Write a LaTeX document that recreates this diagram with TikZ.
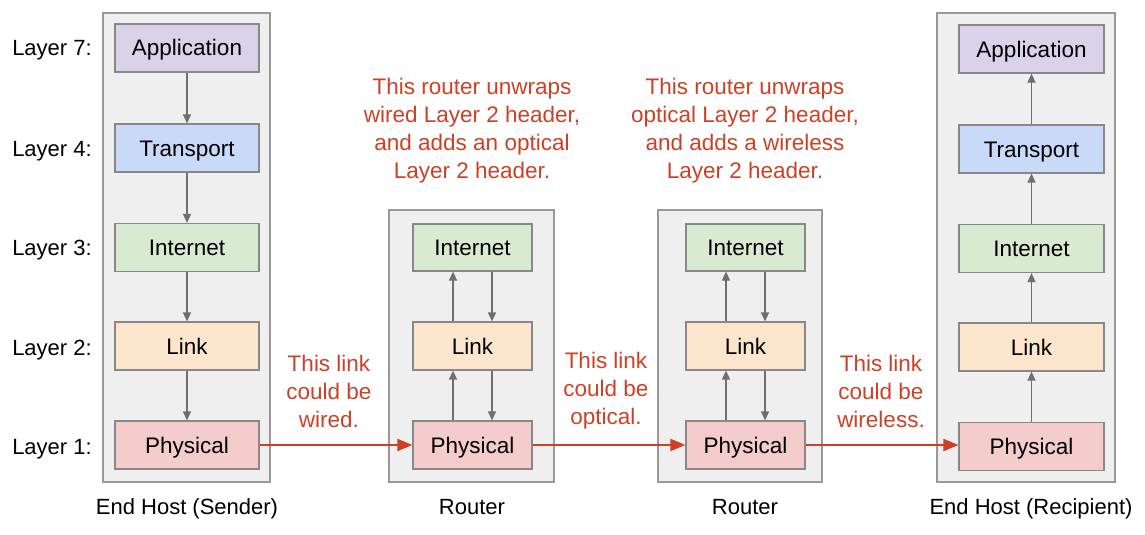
\documentclass[tikz,border=0pt]{standalone}
\usepackage{fontspec}
\setmainfont{Liberation Sans}
\usetikzlibrary{arrows.meta}
\definecolor{grpfill}{HTML}{EFEFEF}
\definecolor{grpdraw}{HTML}{999999}
\definecolor{boxdraw}{HTML}{888888}
\definecolor{cApp}{HTML}{D9D2E9}
\definecolor{cTra}{HTML}{C9DAF8}
\definecolor{cInt}{HTML}{D9EAD3}
\definecolor{cLnk}{HTML}{FCE5CD}
\definecolor{cPhy}{HTML}{F4CCCC}
\definecolor{redtxt}{HTML}{CC4125}
\definecolor{arrgray}{HTML}{6F6F6F}
\begin{document}
\begin{tikzpicture}[x=1pt,y=-1pt,
  grp/.style={draw=grpdraw,fill=grpfill,line width=1.2pt,rectangle,inner sep=0pt},
  layerbox/.style={draw=boxdraw,line width=1.2pt,rectangle,inner sep=0pt,text height=16pt,text depth=0pt,font=\fontsize{22.5}{26}\selectfont},
  lbl/.style={font=\fontsize{22}{26}\selectfont,anchor=center,text height=16pt,text depth=0pt},
  redlbl/.style={font=\fontsize{22.5}{28}\selectfont,text=redtxt,align=center},
  garr/.style={draw=arrgray,line width=1.3pt,-{Triangle[length=9pt,width=8pt]}},
  rarr/.style={draw=redtxt,line width=2pt,-{Triangle[length=15pt,width=12pt]}}
]
\useasboundingbox (0,0) rectangle (1145,535);
% group boxes
\node[grp,minimum width=167pt,minimum height=469pt] (gS) at (186.5,247.5) {};
\node[grp,minimum width=178pt,minimum height=469pt] (gR) at (1026,247.5) {};
\node[grp,minimum width=165pt,minimum height=272pt] (g1) at (471.5,346) {};
\node[grp,minimum width=164pt,minimum height=272pt] (g2) at (740,346) {};
% sender
\node[layerbox,fill=cApp,minimum width=144pt,minimum height=48pt] (sA) at (187,48) {Application};
\node[layerbox,fill=cTra,minimum width=144pt,minimum height=48pt] (sT) at (187,148) {Transport};
\node[layerbox,fill=cInt,minimum width=144pt,minimum height=48pt] (sI) at (187,247.5) {Internet};
\node[layerbox,fill=cLnk,minimum width=144pt,minimum height=48pt] (sL) at (187,346) {Link};
\node[layerbox,fill=cPhy,minimum width=144pt,minimum height=48pt] (sP) at (187,445) {Physical};
% recipient
\node[layerbox,fill=cApp,minimum width=145pt,minimum height=48pt] (rA) at (1031.5,49) {Application};
\node[layerbox,fill=cTra,minimum width=145pt,minimum height=48pt] (rT) at (1031.5,149) {Transport};
\node[layerbox,fill=cInt,minimum width=145pt,minimum height=48pt] (rI) at (1031.5,248.5) {Internet};
\node[layerbox,fill=cLnk,minimum width=145pt,minimum height=48pt] (rL) at (1031.5,347) {Link};
\node[layerbox,fill=cPhy,minimum width=145pt,minimum height=48pt] (rP) at (1031.5,446.5) {Physical};
% router 1
\node[layerbox,fill=cInt,minimum width=119pt,minimum height=47pt] (aI) at (472.5,247.5) {Internet};
\node[layerbox,fill=cLnk,minimum width=119pt,minimum height=48pt] (aL) at (472.5,346) {Link};
\node[layerbox,fill=cPhy,minimum width=119pt,minimum height=48pt] (aP) at (472.5,445) {Physical};
% router 2
\node[layerbox,fill=cInt,minimum width=119pt,minimum height=47pt] (bI) at (745.5,247.5) {Internet};
\node[layerbox,fill=cLnk,minimum width=119pt,minimum height=48pt] (bL) at (745.5,346) {Link};
\node[layerbox,fill=cPhy,minimum width=119pt,minimum height=48pt] (bP) at (745.5,445) {Physical};
% sender arrows
\draw[garr] (sA) -- (sT);
\draw[garr] (sT) -- (sI);
\draw[garr] (sI) -- (sL);
\draw[garr] (sL) -- (sP);
% recipient arrows
\draw[garr] (rP) -- (rL);
\draw[garr] (rL) -- (rI);
\draw[garr] (rI) -- (rT);
\draw[garr] (rT) -- (rA);
% router 1 arrows
\draw[garr] ([xshift=-19.5pt]aP.north) -- ([xshift=-19.5pt]aL.south);
\draw[garr] ([xshift=-19.5pt]aL.north) -- ([xshift=-19.5pt]aI.south);
\draw[garr] ([xshift=19.5pt]aI.south) -- ([xshift=19.5pt]aL.north);
\draw[garr] ([xshift=19.5pt]aL.south) -- ([xshift=19.5pt]aP.north);
% router 2 arrows
\draw[garr] ([xshift=-19.5pt]bP.north) -- ([xshift=-19.5pt]bL.south);
\draw[garr] ([xshift=-19.5pt]bL.north) -- ([xshift=-19.5pt]bI.south);
\draw[garr] ([xshift=19.5pt]bI.south) -- ([xshift=19.5pt]bL.north);
\draw[garr] ([xshift=19.5pt]bL.south) -- ([xshift=19.5pt]bP.north);
% red link arrows
\draw[rarr] (sP.east) -- (aP.west);
\draw[rarr] (aP.east) -- (bP.west);
\draw[rarr] (bP.east) -- ([yshift=1.5pt]rP.west);
% layer labels
\node[lbl] (l7) at (52,48) {Layer 7:};
\node[lbl] (l4) at (52,148) {Layer 4:};
\node[lbl] (l3) at (52,247) {Layer 3:};
\node[lbl] (l2) at (52,347) {Layer 2:};
\node[lbl] (l1) at (52,446) {Layer 1:};
% bottom labels
\node[lbl] (tS) at (187,506) {End Host (Sender)};
\node[lbl] (t1) at (472,506) {Router};
\node[lbl] (t2) at (745,506) {Router};
\node[lbl] (tR) at (1031,506) {End Host (Recipient)};
% red notes
\node[redlbl] (n1) at (472,131) {This router unwraps\\wired Layer 2 header,\\and adds an optical\\Layer 2 header.};
\node[redlbl] (n2) at (745,131) {This router unwraps\\optical Layer 2 header,\\and adds a wireless\\Layer 2 header.};
\node[redlbl] (w1) at (329,391) {This link\\could be\\wired.};
\node[redlbl] (w2) at (606,391) {This link\\could be\\optical.};
\node[redlbl] (w3) at (881,391) {This link\\could be\\wireless.};
\end{tikzpicture}
\end{document}
